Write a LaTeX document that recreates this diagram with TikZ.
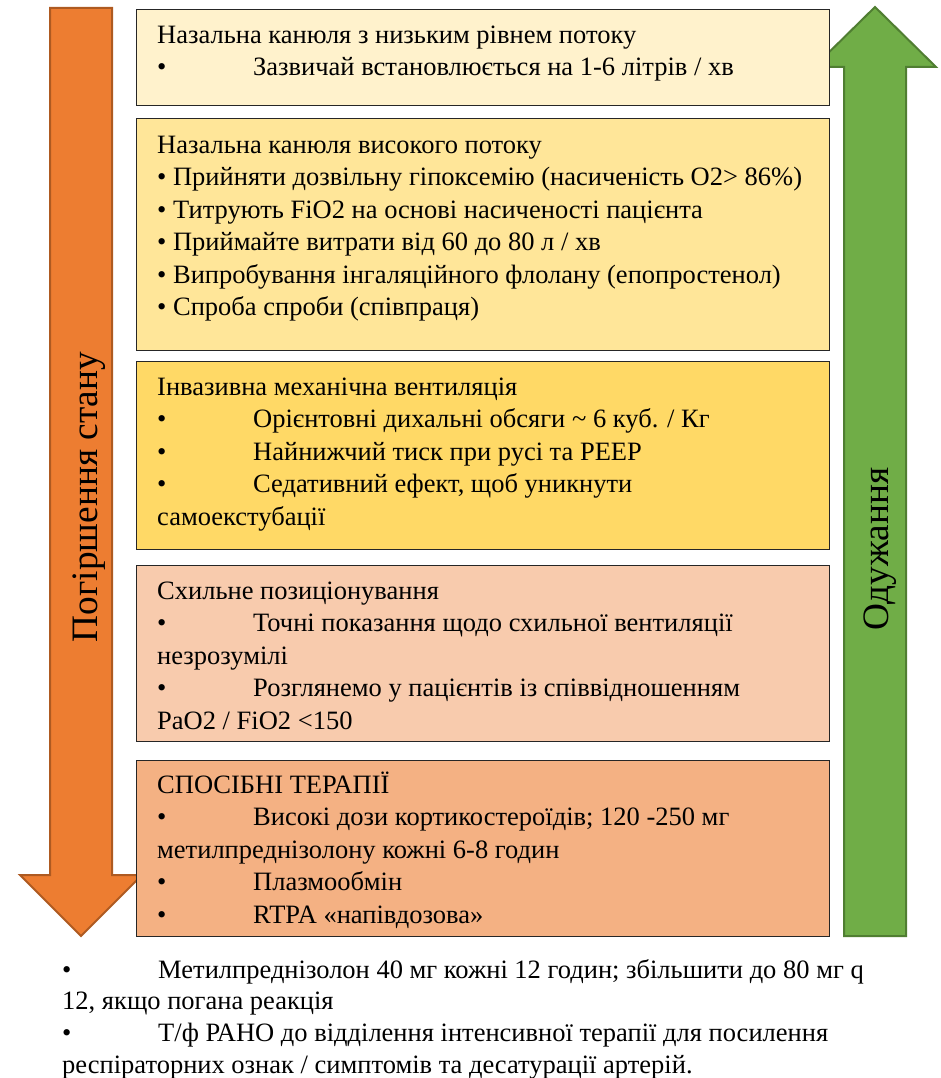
\documentclass[tikz,border=0pt]{standalone}
\usepackage{fontspec}
\setmainfont{Liberation Serif}
\usetikzlibrary{%
  positioning% wg. " of "
}
\definecolor{stageLow}{HTML}{FFF2CC}
\definecolor{stageHigh}{HTML}{FFE699}
\definecolor{stageVent}{HTML}{FFD966}
\definecolor{stageProne}{HTML}{F8CBAD}
\definecolor{stageTherapy}{HTML}{F4B183}
\definecolor{worseFill}{HTML}{ED7D31}
\definecolor{worseDraw}{HTML}{AE5A21}
\definecolor{betterFill}{HTML}{70AD47}
\definecolor{betterDraw}{HTML}{507E32}
\newcommand{\tabbul}{\makebox[96pt][l]{•}}

\begin{document}
\begin{tikzpicture}[x=1pt,y=-1pt,stage/.style={
	rectangle,
	anchor=north west,
	minimum width=693pt,
	draw=black!85,
	line width=1pt
	},stagetext/.style={
	align=left,
	inner sep=0pt,
	font=\fontsize{26.5}{32.5}\selectfont
	},trend/.style={
	line width=2pt,
	line join=miter
	},trendlabel/.style={
	rotate=90,
	anchor=base,
	inner sep=0pt,
	font=\fontsize{37.3}{42}\selectfont
	}
]
\useasboundingbox (0,0) rectangle (941,1078);

% arrows first, the boxes lie over their heads
\draw[trend, fill=worseFill, draw=worseDraw] (50,8) -- (112,8) -- (112,875) -- (142,875) -- (81,936) -- (20,875) -- (50,875) -- cycle;
\draw[trend, fill=betterFill, draw=betterDraw] (844,936) -- (906,936) -- (906,67) -- (936,67) -- (875,7) -- (814,67) -- (844,67) -- cycle;

\node (labWorse) [trendlabel] at (97,497) {Погіршення стану};
\node (labBetter) [trendlabel] at (888,549) {Одужання};

% boxes
\node (boxLow) [stage, fill=stageLow, minimum height=96pt] at (136,9) {};
\node (boxHigh) [stage, fill=stageHigh, minimum height=232pt] at (136,118) {};
\node (boxVent) [stage, fill=stageVent, minimum height=188pt] at (136,361) {};
\node (boxProne) [stage, fill=stageProne, minimum height=176pt] at (136,565) {};
\node (boxTherapy) [stage, fill=stageTherapy, minimum height=176pt] at (136,760) {};

% texts
\node (textLow) [stagetext, below right=10pt and 21pt of boxLow.north west] {\rule{0pt}{24pt}Назальна канюля з низьким рівнем потоку\\
\tabbul Зазвичай встановлюється на 1-6 літрів / хв};
\node (textHigh) [stagetext, below right=11pt and 21pt of boxHigh.north west] {\rule{0pt}{24pt}Назальна канюля високого потоку\\
• Прийняти дозвільну гіпоксемію (насиченість О2> 86\%)\\
• Титрують FiO2 на основі насиченості пацієнта\\
• Приймайте витрати від 60 до 80 л / хв\\
• Випробування інгаляційного флолану (епопростенол)\\
• Спроба спроби (співпраця)};
\node (textVent) [stagetext, below right=10pt and 21pt of boxVent.north west] {\rule{0pt}{24pt}Інвазивна механічна вентиляція\\
\tabbul Орієнтовні дихальні обсяги \textasciitilde{} 6 куб. / Кг\\
\tabbul Найнижчий тиск при русі та PEEP\\
\tabbul Седативний ефект, щоб уникнути\\
самоекстубації};
\node (textProne) [stagetext, below right=10pt and 21pt of boxProne.north west] {\rule{0pt}{24pt}Схильне позиціонування\\
\tabbul Точні показання щодо схильної вентиляції\\
незрозумілі\\
\tabbul Розглянемо у пацієнтів із співвідношенням\\
PaO2 / FiO2 <150};
\node (textTherapy) [stagetext, below right=9pt and 21pt of boxTherapy.north west] {\rule{0pt}{24pt}СПОСІБНІ ТЕРАПІЇ\\
\tabbul Високі дози кортикостероїдів; 120 -250 мг\\
метилпреднізолону кожні 6-8 годин\\
\tabbul Плазмообмін\\
\tabbul RTPA «напівдозова»};

\node (notesBelow) [stagetext, anchor=north west, font=\fontsize{26.5}{31.7}\selectfont] at (62,954) {\rule{0pt}{24pt}\tabbul Метилпреднізолон 40 мг кожні 12 годин; збільшити до 80 мг q\\
12, якщо погана реакція\\
\tabbul Т/ф РАНО до відділення інтенсивної терапії для посилення\\
респіраторних ознак / симптомів та десатурації артерій.};

\end{tikzpicture}
\end{document}
